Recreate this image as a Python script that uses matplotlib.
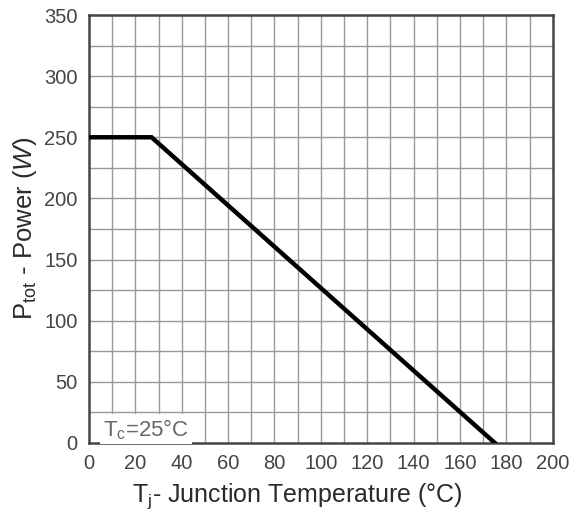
import numpy as np
import matplotlib.pyplot as plt

plt.rcParams['font.family'] = ['Liberation Sans', 'DejaVu Sans']
plt.rcParams['mathtext.fontset'] = 'custom'
plt.rcParams['mathtext.rm'] = 'Liberation Sans'
plt.rcParams['mathtext.it'] = 'Liberation Sans:italic'

# Derating curve: power vs junction temperature
temp_c = [0, 27, 175]
power_w = [250, 250, 0]

x_ticks = list(range(0, 201, 20))
y_ticks = list(range(0, 351, 50))

fig = plt.figure(figsize=(5.74, 5.18), dpi=100)
ax = fig.add_axes([0.155, 0.145, 0.808, 0.826])

# Grid: every 10 degC and every 25 W
for xv in np.arange(10, 200, 10):
    ax.axvline(xv, color='#999999', lw=1.0, zorder=1)
for yv in np.arange(25, 350, 25):
    ax.axhline(yv, color='#999999', lw=1.0, zorder=1)

ax.plot(temp_c, power_w, color='black', lw=3.2, solid_joinstyle='miter', zorder=3)

ax.set_xlim(0, 200)
ax.set_ylim(0, 350)
ax.set_xticks(x_ticks)
ax.set_yticks(y_ticks)
ax.tick_params(length=0, labelcolor='#444444', labelsize=14.5)
ax.tick_params(axis='x', pad=8)
ax.tick_params(axis='y', pad=8)

for s in ax.spines.values():
    s.set_color('#444444')
    s.set_linewidth(1.8)

ax.text(6, 11, r'T$_\mathrm{c}$=25°C', fontsize=16, color='#666666',
        va='center', ha='left', zorder=4,
        bbox=dict(facecolor='white', edgecolor='none', pad=2))

ax.set_xlabel(r'T$_\mathrm{j}$- Junction Temperature (°C)', fontsize=18,
              color='#2a2a2a')
ax.xaxis.set_label_coords(0.45, -0.09)
ax.set_ylabel(r'P$_\mathrm{tot}$ - Power ($\mathit{W}$)', fontsize=18.5,
              color='#2a2a2a', labelpad=4)

fig.savefig('out.png', dpi=100)
